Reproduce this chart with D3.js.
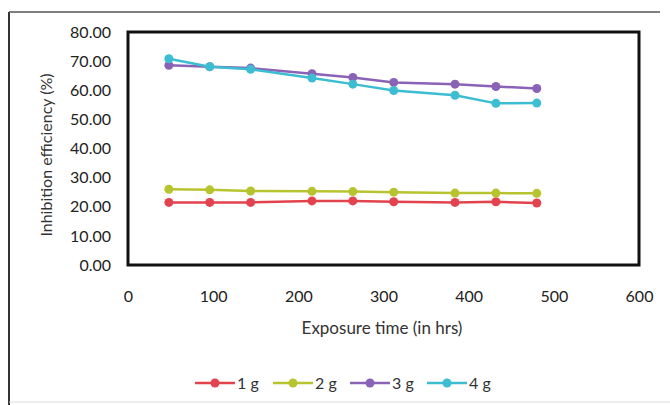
<!DOCTYPE html>
<html><head><meta charset="utf-8">
<script src="https://cdn.jsdelivr.net/npm/d3@7"></script>
<style>body{margin:0;background:#fff;} svg{display:block;font-family:Lato,"Open Sans",sans-serif;}</style>
</head><body>
<svg id="c" width="670" height="405"></svg>
<script>
const hours = [48, 96, 144, 216, 264, 312, 384, 432, 480];
const seriesNames = ["1 g", "2 g", "3 g", "4 g"];
const colors = ["#e2434e", "#b8c42f", "#8a63b6", "#3dbdd2"];
const s1g = [21.5, 21.5, 21.5, 22.0, 22.0, 21.7, 21.5, 21.7, 21.3];
const s2g = [26.0, 25.8, 25.4, 25.3, 25.2, 25.0, 24.7, 24.7, 24.6];
const s3g = [68.6, 68.1, 67.6, 65.7, 64.4, 62.7, 62.1, 61.3, 60.6];
const s4g = [70.8, 68.1, 67.2, 64.2, 62.1, 59.9, 58.3, 55.5, 55.6];
const yTicks = [0, 10, 20, 30, 40, 50, 60, 70, 80];
const xTicks = [0, 100, 200, 300, 400, 500, 600];
const series = [s1g, s2g, s3g, s4g];

const svg = d3.select("#c");
const L = 128, R = 639, T = 32, B = 265;
const x = d3.scaleLinear().domain([0, 600]).range([L, R]);
const y = d3.scaleLinear().domain([0, 80]).range([B, T]);

// outer figure border
svg.append("line").attr("x1", 9).attr("x2", 9).attr("y1", 12).attr("y2", 405).attr("stroke", "#333").attr("stroke-width", 2);
svg.append("line").attr("x1", 9).attr("x2", 660).attr("y1", 12).attr("y2", 12).attr("stroke", "#555").attr("stroke-width", 1.5);
svg.append("line").attr("x1", 9).attr("x2", 670).attr("y1", 402).attr("y2", 402).attr("stroke", "#ddd").attr("stroke-width", 1);

// plot frame
svg.append("rect").attr("x", L).attr("y", T).attr("width", R - L).attr("height", B - T)
  .attr("fill", "#fff").attr("stroke", "#111").attr("stroke-width", 3);

// axes
const yAxis = d3.axisLeft(y).tickValues(yTicks).tickFormat(d3.format(".2f")).tickSize(0).tickPadding(17);
const gy = svg.append("g").attr("transform", `translate(${L},0)`).call(yAxis);
gy.select(".domain").remove();
gy.selectAll("text").attr("font-size", 16).attr("fill", "#222").attr("font-family", "Lato, sans-serif");

const xAxis = d3.axisBottom(x).tickValues(xTicks).tickFormat(d3.format("d")).tickSize(0).tickPadding(26);
const gx = svg.append("g").attr("transform", `translate(0,${B})`).call(xAxis);
gx.select(".domain").remove();
gx.selectAll("text").attr("font-size", 16).attr("fill", "#222").attr("font-family", "Lato, sans-serif");

// titles
svg.append("text").attr("transform", "translate(52,155) rotate(-90)").attr("text-anchor", "middle")
  .attr("font-size", 16).attr("fill", "#333").text("Inhibition efficiency (%)");
svg.append("text").attr("x", 382).attr("y", 334).attr("text-anchor", "middle")
  .attr("font-size", 17).attr("fill", "#333").text("Exposure time (in hrs)");

// lines
const line = d3.line().x((d, i) => x(hours[i])).y(d => y(d));
series.forEach((s, k) => {
  const g = svg.append("g");
  g.append("path").datum(s).attr("d", line).attr("fill", "none").attr("stroke", colors[k]).attr("stroke-width", 2.5);
  g.selectAll("circle").data(s).enter().append("circle")
    .attr("cx", (d, i) => x(hours[i])).attr("cy", d => y(d)).attr("r", 4.5).attr("fill", colors[k]);
});

// legend
const legX = [195, 273, 350, 427];
seriesNames.forEach((n, k) => {
  const g = svg.append("g").attr("transform", `translate(${legX[k]},383)`);
  g.append("line").attr("x1", 0).attr("x2", 40).attr("y1", 0).attr("y2", 0).attr("stroke", colors[k]).attr("stroke-width", 2.5);
  g.append("circle").attr("cx", 20).attr("cy", 0).attr("r", 4.5).attr("fill", colors[k]);
  g.append("text").attr("x", 42).attr("y", 6).attr("font-size", 16).attr("fill", "#333").text(n);
});
</script>
</body></html>
